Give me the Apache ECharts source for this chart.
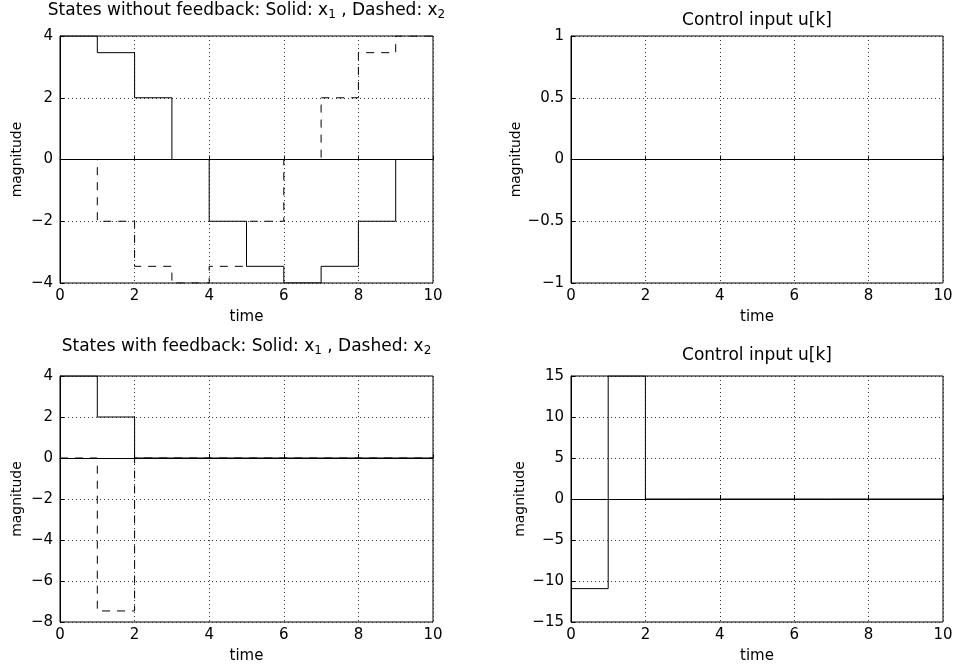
<!DOCTYPE html>
<html>
<head>
<meta charset="utf-8">
<script src="https://cdn.jsdelivr.net/npm/echarts@6/dist/echarts.min.js"></script>
<style>
  html, body { margin: 0; background: #fff; }
  #chart { width: 956px; height: 666px; }
</style>
</head>
<body>
<div id="chart"></div>
<script>
// time steps k
const steps = [0, 1, 2, 3, 4, 5, 6, 7, 8, 9, 10]
// states / input without feedback
const x1Open = [4, 3.46, 2, 0, -2, -3.46, -4, -3.46, -2, 0, 0]
const x2Open = [0, -2, -3.46, -4, -3.46, -2, 0, 2, 3.46, 4, 4]
const uOpen = [0, 0, 0, 0, 0, 0, 0, 0, 0, 0, 0]
// states / input with feedback
const x1Closed = [4, 2, 0, 0, 0, 0, 0, 0, 0, 0, 0]
const x2Closed = [0, -7.46, 0, 0, 0, 0, 0, 0, 0, 0, 0]
const uClosed = [-10.93, 15, 0, 0, 0, 0, 0, 0, 0, 0, 0]

// y axis ranges [min, max, interval] per panel
const yRanges = [[-4, 4, 2], [-1, 1, 0.5], [-8, 4, 2], [-15, 15, 5]]
const titles = [
  '{m|States without feedback: Solid: x}{s|1}{m| , Dashed: x}{s|2}',
  '{m|Control input u[k]}',
  '{m|States with feedback: Solid: x}{s|1}{m| , Dashed: x}{s|2}',
  '{m|Control input u[k]}'
]

const font = '"DejaVu Sans", "Liberation Sans", Arial, sans-serif'
const grids = [
  { left: 60, top: 36, width: 373, height: 247 },
  { left: 571, top: 36, width: 372, height: 247 },
  { left: 60, top: 376, width: 373, height: 246 },
  { left: 571, top: 376, width: 372, height: 246 }
]
const titleTops = [2, 12, 338, 347]
const yNameGaps = [36, 44, 36, 44]

const minus = v => String(v).replace('-', '\u2212')
const pair = arr => steps.map((k, i) => [k, arr[i]])

const gridLine = { show: true, lineStyle: { color: '#333', type: [1, 3], width: 1 } }

const myChart = echarts.init(document.getElementById('chart'))

let option = {
  backgroundColor: '#fff',
  animation: false,
  title: grids.map((g, i) => ({
    text: titles[i],
    left: g.left + g.width / 2,
    top: titleTops[i],
    textAlign: 'center',
    textVerticalAlign: 'top',
    padding: 0,
    textStyle: {
      fontFamily: font,
      fontWeight: 'normal',
      color: '#000',
      rich: {
        m: { fontFamily: font, fontSize: 17, color: '#000', lineHeight: 19, verticalAlign: 'top' },
        s: { fontFamily: font, fontSize: 12, color: '#000', lineHeight: 13, padding: [9, 0, 0, 0], verticalAlign: 'bottom' }
      }
    }
  })),
  grid: grids.map(g => Object.assign({ show: true, borderColor: '#000', borderWidth: 1, containLabel: false }, g)),
  xAxis: grids.map((g, i) => ({
    type: 'value',
    gridIndex: i,
    min: 0,
    max: 10,
    interval: 2,
    name: 'time',
    nameLocation: 'middle',
    nameGap: 27,
    nameTextStyle: { fontFamily: font, fontSize: 15, color: '#000' },
    axisLine: { show: true, lineStyle: { color: '#000' } },
    axisTick: { show: true, inside: true, length: 4, lineStyle: { color: '#000' } },
    axisLabel: { fontFamily: font, fontSize: 15, color: '#000', margin: 6 },
    splitLine: gridLine
  })),
  yAxis: grids.map((g, i) => ({
    type: 'value',
    gridIndex: i,
    min: yRanges[i][0],
    max: yRanges[i][1],
    interval: yRanges[i][2],
    name: 'magnitude',
    nameLocation: 'middle',
    nameGap: yNameGaps[i],
    nameTextStyle: { fontFamily: font, fontSize: 14, color: '#000' },
    axisLine: { show: true, lineStyle: { color: '#000' } },
    axisTick: { show: true, inside: true, length: 4, lineStyle: { color: '#000' } },
    axisLabel: { fontFamily: font, fontSize: 15, color: '#000', margin: 7, formatter: minus },
    splitLine: gridLine
  })),
  series: [
    { name: 'x1 open', data: pair(x1Open), xAxisIndex: 0, yAxisIndex: 0, dash: false },
    { name: 'x2 open', data: pair(x2Open), xAxisIndex: 0, yAxisIndex: 0, dash: true },
    { name: 'u open', data: pair(uOpen), xAxisIndex: 1, yAxisIndex: 1, dash: false },
    { name: 'x1 closed', data: pair(x1Closed), xAxisIndex: 2, yAxisIndex: 2, dash: false },
    { name: 'x2 closed', data: pair(x2Closed), xAxisIndex: 2, yAxisIndex: 2, dash: true },
    { name: 'u closed', data: pair(uClosed), xAxisIndex: 3, yAxisIndex: 3, dash: false }
  ].map(s => ({
    type: 'line',
    name: s.name,
    data: s.data,
    xAxisIndex: s.xAxisIndex,
    yAxisIndex: s.yAxisIndex,
    step: 'end',
    showSymbol: false,
    clip: true,
    z: 5,
    lineStyle: { color: '#000', width: 1, type: s.dash ? [8, 7] : 'solid' }
  }))
}

myChart.setOption(option)
</script>
</body>
</html>
